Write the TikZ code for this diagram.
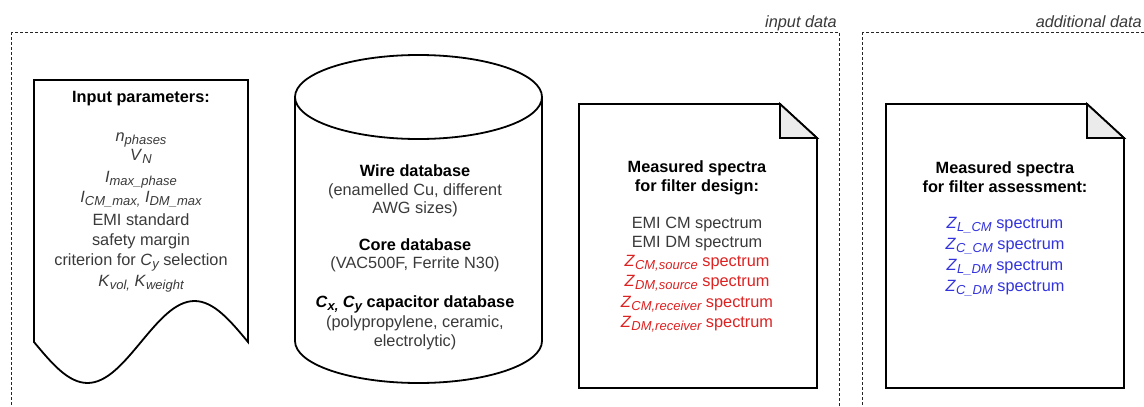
\documentclass[tikz,border=0pt]{standalone}
\usepackage{fontspec}
\setmainfont{Liberation Sans}
\definecolor{textgray}{HTML}{3A3A3A}
\definecolor{zred}{HTML}{DD2222}
\definecolor{zblue}{HTML}{3333DD}
\definecolor{foldgray}{HTML}{EBEBEB}
\newcommand\isub[2]{\textit{#1}\raisebox{-3.5pt}{\fontsize{13}{14}\selectfont\itshape #2}}
\newcommand\bisub[2]{\textbf{\textit{#1}}\raisebox{-3.5pt}{\fontsize{13}{14}\selectfont\bfseries\itshape #2}}
\begin{document}
\begin{tikzpicture}[x=1pt,y=-1pt,
  shapeline/.style={draw=black, line width=1.8pt},
  container/.style={draw=black!85, line width=1pt, dash pattern=on 3pt off 2pt},
  bodytext/.style={inner sep=0pt, anchor=base, text=textgray, font=\fontsize{16.3}{19}\selectfont},
  headtext/.style={inner sep=0pt, anchor=base, text=black, font=\fontsize{16.3}{19}\selectfont\bfseries},
  grouplabel/.style={inner sep=0pt, anchor=base east, text=textgray, font=\fontsize{16.3}{19}\selectfont\itshape},
  redtext/.style={bodytext, text=zred},
  bluetext/.style={bodytext, text=zblue}]
\clip (0,0) rectangle (1144,407);
\fill[white] (0,0) rectangle (1144,407);

% containers
\draw[container] (11,32) rectangle (839,430);
\draw[container] (862,32) rectangle (1170,430);
\node[grouplabel] (labin) at (837,27) {input data};
\node[grouplabel] (labadd) at (1142,27) {additional data};

% input parameters (document shape)
\draw[shapeline, fill=white] (34,80) -- (248,80) -- (248,342)
  sin (194.5,301) cos (141,342) sin (87.5,383) cos (34,342) -- cycle;
\node[headtext] (ip0) at (141,102) {Input parameters:};
\node[bodytext] (ip1) at (141,141) {\isub{n}{phases}};
\node[bodytext] (ip2) at (141,160) {\isub{V}{N}};
\node[bodytext] (ip3) at (141,182) {\isub{I}{max\_phase}};
\node[bodytext] (ip4) at (141,202) {\isub{I}{CM\_max,} \isub{I}{DM\_max}};
\node[bodytext] (ip5) at (141,225) {EMI standard};
\node[bodytext] (ip6) at (141,245) {safety margin};
\node[bodytext] (ip7) at (141,265) {criterion for \isub{C}{y} selection};
\node[bodytext] (ip8) at (141,286) {\isub{K}{vol,} \isub{K}{weight}};

% database cylinder
\draw[shapeline, fill=white] (295,97) -- (295,341) arc[start angle=180, end angle=0, x radius=123.5, y radius=42] -- (542,97);
\draw[shapeline, fill=white] (418.5,97) ellipse[x radius=123.5, y radius=42];
\node[headtext] (cy1) at (415,176) {Wire database};
\node[bodytext] (cy2) at (415,195) {(enamelled Cu, different};
\node[bodytext] (cy3) at (415,213) {AWG sizes)};
\node[headtext] (cy4) at (415,250) {Core database};
\node[bodytext] (cy5) at (415,268) {(VAC500F, Ferrite N30)};
\node[headtext] (cy6) at (415,307) {\bisub{C}{x,} \bisub{C}{y} capacitor database};
\node[bodytext] (cy7) at (415,327) {(polypropylene, ceramic,};
\node[bodytext] (cy8) at (415,346) {electrolytic)};

% measured spectra for filter design (note shape)
\draw[shapeline, fill=white] (579,104) -- (780,104) -- (817,138) -- (817,388) -- (579,388) -- cycle;
\draw[shapeline, fill=foldgray] (780,104) -- (780,138) -- (817,138) -- cycle;
\node[headtext] (da1) at (697,172) {Measured spectra};
\node[headtext] (da2) at (697,191) {for filter design:};
\node[bodytext] (da3) at (697,228) {EMI CM spectrum};
\node[bodytext] (da4) at (697,247) {EMI DM spectrum};
\node[redtext] (da5) at (697,266) {\isub{Z}{CM,source} spectrum};
\node[redtext] (da6) at (697,286) {\isub{Z}{DM,source} spectrum};
\node[redtext] (da7) at (697,307) {\isub{Z}{CM,receiver} spectrum};
\node[redtext] (da8) at (697,327) {\isub{Z}{DM,receiver} spectrum};

% measured spectra for filter assessment (note shape)
\draw[shapeline, fill=white] (886,104) -- (1087,104) -- (1124,138) -- (1124,388) -- (886,388) -- cycle;
\draw[shapeline, fill=foldgray] (1087,104) -- (1087,138) -- (1124,138) -- cycle;
\node[headtext] (db1) at (1005,173) {Measured spectra};
\node[headtext] (db2) at (1005,192) {for filter assessment:};
\node[bluetext] (db3) at (1005,228) {\isub{Z}{L\_CM} spectrum};
\node[bluetext] (db4) at (1005,249) {\isub{Z}{C\_CM} spectrum};
\node[bluetext] (db5) at (1005,270) {\isub{Z}{L\_DM} spectrum};
\node[bluetext] (db6) at (1005,291) {\isub{Z}{C\_DM} spectrum};
\end{tikzpicture}
\end{document}
